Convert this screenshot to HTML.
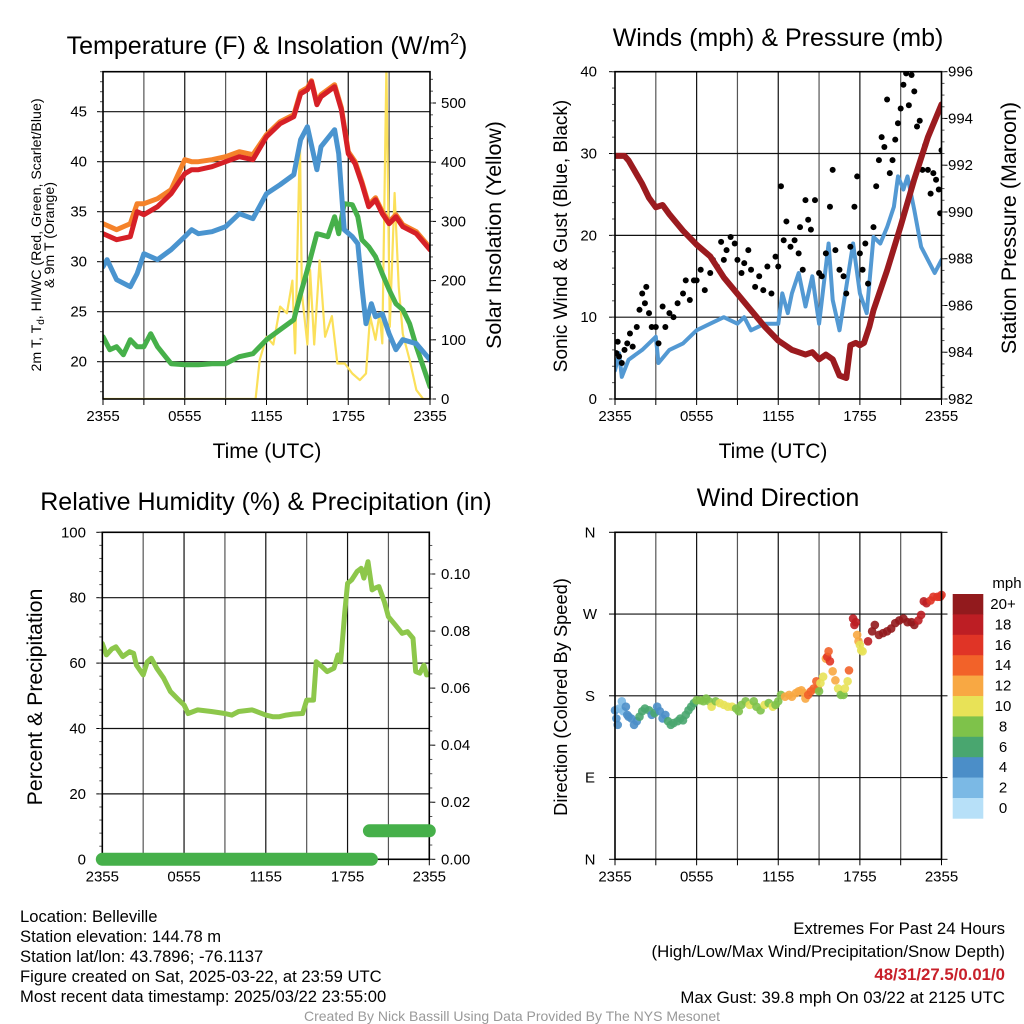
<!DOCTYPE html>
<html><head><meta charset="utf-8"><title>Mesonet Meteogram - Belleville</title>
<style>
html,body{margin:0;padding:0;background:#fff;}
svg{display:block;font-family:"Liberation Sans",Arial,sans-serif;}
</style></head>
<body>
<svg id="chart" width="1024" height="1024" viewBox="0 0 1024 1024" xmlns="http://www.w3.org/2000/svg">
<defs>
<clipPath id="c1"><rect x="103" y="71.7" width="327" height="327.3"/></clipPath>
<clipPath id="c2"><rect x="615" y="71.7" width="326.5" height="327.3"/></clipPath>
<clipPath id="c3"><rect x="102.3" y="532.3" width="327" height="327"/></clipPath>
</defs>
<rect width="1024" height="1024" fill="#fff"/>
<!-- titles -->
<text x="267" y="54" font-size="25" text-anchor="middle">Temperature (F) &amp; Insolation (W/m<tspan font-size="16" dy="-10">2</tspan><tspan dy="10">)</tspan></text>
<text x="778" y="46" font-size="25" text-anchor="middle">Winds (mph) &amp; Pressure (mb)</text>
<text x="266" y="510" font-size="25" text-anchor="middle">Relative Humidity (%) &amp; Precipitation (in)</text>
<text x="778" y="506" font-size="25" text-anchor="middle">Wind Direction</text>
<text x="267" y="458" font-size="21" text-anchor="middle">Time (UTC)</text>
<text x="773" y="458" font-size="21" text-anchor="middle">Time (UTC)</text>
<text transform="translate(41,235) rotate(-90)" font-size="14.2" text-anchor="middle">2m T, T<tspan font-size="10" dy="3">d</tspan><tspan dy="-3">, HI/WC (Red, Green, Scarlet/Blue)</tspan></text>
<text transform="translate(54,235) rotate(-90)" font-size="14.2" text-anchor="middle">&amp; 9m T (Orange)</text>
<text transform="translate(501,235) rotate(-90)" font-size="21.3" text-anchor="middle">Solar Insolation (Yellow)</text>
<text transform="translate(567,236) rotate(-90)" font-size="19" text-anchor="middle">Sonic Wind &amp; Gust (Blue, Black)</text>
<text transform="translate(1016,228) rotate(-90)" font-size="21.5" text-anchor="middle">Station Pressure (Maroon)</text>
<text transform="translate(42,697) rotate(-90)" font-size="21.3" text-anchor="middle">Percent &amp; Precipitation</text>
<text transform="translate(567,697) rotate(-90)" font-size="18.3" text-anchor="middle">Direction (Colored By Speed)</text>
<!-- footer -->
<g font-size="16.6">
<text x="20" y="922">Location: Belleville</text>
<text x="20" y="942">Station elevation: 144.78 m</text>
<text x="20" y="962">Station lat/lon: 43.7896; -76.1137</text>
<text x="20" y="982">Figure created on Sat, 2025-03-22, at 23:59 UTC</text>
<text x="20" y="1002">Most recent data timestamp: 2025/03/22 23:55:00</text>
</g>
<g font-size="16.8" text-anchor="end">
<text x="1005" y="934">Extremes For Past 24 Hours</text>
<text x="1005" y="957">(High/Low/Max Wind/Precipitation/Snow Depth)</text>
<text x="1005" y="980" fill="#c8202a" font-weight="bold">48/31/27.5/0.01/0</text>
<text x="1005" y="1003">Max Gust: 39.8 mph On 03/22 at 2125 UTC</text>
</g>
<text x="512" y="1021" font-size="14" fill="#999" text-anchor="middle">Created By Nick Bassill Using Data Provided By The NYS Mesonet</text>
</svg>
<script>
// ---------- DATA ----------
const xTickLabels = ["2355","0555","1155","1755","2355"];
const xTickHours = [0,6,12,18,24];
const tempTicks = [20,25,30,35,40,45];
const solarTicks = [0,100,200,300,400,500];
const windTicks = [0,10,20,30,40];
const presTicks = [982,984,986,988,990,992,994,996];
const rhTicks = [0,20,40,60,80,100];
const precipTicks = [0,0.02,0.04,0.06,0.08,0.10];
const precipTickLabels = ["0.00","0.02","0.04","0.06","0.08","0.10"];
const dirTicks = [0,90,180,270,360];
const dirTickLabels = ["N","E","S","W","N"];

const redH = [0,1,2,2.5,3,4,5,6,6.5,7,8,9,10,11,12,13,14,14.5,15,15.3,15.7,16,17,17.5,18,18.5,19,19.5,20,20.5,21,21.5,22,23,24];
const redV = [32.8,32.2,32.5,35,34.7,35.5,36.8,38.8,39.2,39.2,39.5,40,40.5,40.2,42.5,43.8,44.5,46.8,47.2,48,45.7,46.5,47.5,45.2,40.8,39.8,37.8,35.5,36.2,34.8,33.8,34.5,33.5,32.8,31.2];
const orangeV = [33.8,33.2,33.8,35.8,35.8,36.3,37.2,40.2,40,40,40.2,40.5,41,40.7,42.7,44,44.7,47,47.4,48.1,45.9,46.7,47.7,45.4,41,40,38,35.7,36.4,35,34,34.7,33.7,33,31.4];
const chillH = [0,0.3,1,2,2.5,3,4,5,6,6.5,7,8,9,10,11,12,13,14,14.5,15,15.7,16,17,17.3,17.7,18.3,18.7,19,19.3,19.7,20,20.5,21,21.5,22,23,24];
const chillV = [29.5,30.2,28.2,27.5,28.8,30.8,30.2,31.2,32.5,33.2,32.8,33,33.5,34.8,34.3,36.8,37.7,38.7,42.2,43.5,39.2,41.5,43.2,40.8,33.2,32.5,31.8,27.5,23.8,25.8,24.5,24.8,22.8,21.2,22.2,21.8,20.2];
const dewH = [0,0.5,1,1.5,2,2.5,3,3.5,4,5,6,7,8,9,10,11,12,13,14,14.5,15,15.7,16,16.5,17,17.3,17.7,18.3,18.7,19,19.5,20,20.5,21,21.5,22,22.5,23,23.5,24];
const dewV = [22.5,21.2,21.5,20.7,22.2,21.5,21.5,22.8,21.5,19.8,19.7,19.7,19.8,19.8,20.5,20.8,22.2,23.2,24.2,26.8,29.2,32.8,32.7,32.5,34.5,32.8,35.8,35.7,34.5,32.2,31.5,30.5,28.8,27.2,25.8,25.2,23.8,21.5,19.5,17.5];
const solarH = [0,11.2,11.5,12,12.5,13,13.5,13.9,14.1,14.45,14.6,15,15.2,15.5,15.9,16.3,16.8,17.2,17.75,18.3,18.85,19.3,19.6,20,20.3,20.5,20.8,21.05,21.4,21.7,22,22.5,23,23.5,24];
const solarV = [0,0,66,105,92,156,145,200,77,439,178,92,218,92,234,105,140,60,60,43,32,43,140,100,145,94,560,122,348,190,110,66,15,0,0];

const windH = [0,0.3,0.5,1,2,3,3.2,4,5,6,7,8,9,9.5,10,11,12,12.3,12.7,13,13.5,14,14.5,15,15.7,16,16.5,17,17.5,18,18.5,19,19.5,20,20.5,20.8,21.2,21.5,22,22.5,23,23.5,24];
const windV = [3.5,5.6,2.7,4.8,6,7.6,4.4,6,6.8,8.4,9.2,10,9.2,10,8.4,9.2,9.2,12.9,10.5,12.9,15.4,11.3,15,9.2,19,12.1,8.4,13.7,19,12.9,10.5,19.8,19,21,23.5,27.2,25.6,27.2,23.1,18.6,17,15.4,17];
const gustH = [0.1,0.2,0.3,0.5,0.7,0.9,1.1,1.3,1.6,1.8,2.0,2.2,2.3,2.5,2.7,3.0,3.2,3.5,3.7,4.0,4.3,4.6,5.0,5.2,5.5,5.8,6.0,6.3,6.6,7.0,7.2,7.5,7.8,8.0,8.2,8.5,8.8,9.0,9.3,9.5,9.8,10.0,10.3,10.6,10.9,11.2,11.5,11.8,12.0,12.2,12.4,12.6,12.9,13.2,13.5,13.6,13.8,14.0,14.2,14.4,14.7,15.0,15.2,15.5,15.8,16.0,16.2,16.5,16.8,17.0,17.3,17.6,17.8,18.0,18.2,18.4,18.6,19.0,19.2,19.4,19.6,19.8,20.0,20.2,20.4,20.6,20.8,21.0,21.2,21.4,21.6,21.8,22.0,22.2,22.4,22.6,22.8,23.0,23.2,23.4,23.6,23.8,23.9,24.0];
const gustV = [5.6,7,5.2,4.4,6,6.8,8,6.4,8.8,10.9,12.9,11.7,13.7,10.5,8.8,8.8,6.8,11.3,8.8,10.5,10,11.7,12.9,14.5,12.1,14.5,14.5,15.8,13.3,15.4,17,16.2,19.2,17,18.2,19.8,19,17,15.4,16.6,18.2,15.8,13.7,15,13.3,16.2,12.9,17.4,16.2,26,19.4,21.7,18.6,19.4,17.8,21,15.8,24.3,21.9,20.7,24.3,15.4,15,17.8,23.5,28,18.2,15.8,15,12.9,18.6,23.5,27.2,17.8,15.8,19,14.1,21,26,29.2,32,30.8,36.6,27.6,29.2,31.7,33.7,35.5,38.4,39.8,35.9,39.6,37.6,33.3,34,28,31,28,25.1,27.6,26.8,25.6,22.7,30.4];
const presH = [0,0.7,1,2,2.5,3,3.5,4,5,6,7,8,9,10,11,12,12.5,13,13.5,14,14.5,15,15.5,16,16.5,17,17.3,17.7,18,18.3,18.7,19,20,21,22,23,24];
const presV = [992.4,992.4,992.2,991.2,990.6,990.2,990.3,989.9,989.2,988.6,988.1,987.2,986.5,985.8,985.1,984.5,984.3,984.1,984,983.9,984,983.7,983.9,983.7,983,982.9,984.3,984.4,984.3,984.4,985.1,985.8,987.5,989.4,991.4,993.2,994.6];

const rhH = [0,0.3,0.7,1,1.5,2,2.3,2.5,3,3.3,3.6,4,4.5,5,5.5,6,6.3,7,8,9,9.5,10,11,12,12.5,13,13.5,14,14.7,15,15.5,15.7,16,16.5,17,17.3,17.5,17.8,18,18.3,18.7,19,19.2,19.5,19.8,20,20.3,20.7,21,21.5,22,22.4,22.8,23,23.3,23.6,23.8,24];
const rhV = [66,62.5,64.3,65,62,63.5,63,59.4,56.4,60.4,61.5,58.4,55.4,51.3,49.2,47.2,44.6,45.7,45.2,44.6,44.1,45.2,45.7,44.1,43.6,43.6,44.1,44.4,44.6,48.7,48.7,60.4,59.4,57.4,58.4,62.5,60.4,75.7,84.4,85.4,88,89,86,91,82.4,82.9,83.4,78.8,74.2,71.7,69.1,69.6,67.6,57.4,56.9,59.4,56.4,56.6];
const precipH = [0,6,12,18,19.75,19.6,22,24];
const precipV = [0,0,0,0,0,0.01,0.01,0.01];

const dirH = [0,0.1,0.2,0.3,0.5,0.6,0.8,0.9,1.0,1.2,1.4,1.6,1.8,2.0,2.2,2.5,2.7,2.9,3.1,3.3,3.5,3.7,3.9,4.1,4.3,4.6,4.8,5.0,5.2,5.4,5.6,5.8,6.0,6.3,6.5,6.7,6.9,7.1,7.4,7.7,8.0,8.3,8.6,8.9,9.1,9.3,9.6,9.9,10.2,10.4,10.7,11,11.3,11.6,11.8,12.0,12.2,12.5,12.8,13.0,13.3,13.5,13.7,13.9,14.0,14.2,14.4,14.6,14.8,14.9,15.0,15.1,15.3,15.5,15.6,15.7,15.8,16,16.2,16.4,16.6,16.8,16.9,17.1,17.2,17.5,17.6,17.7,17.8,17.9,18,18.1,18.2,18.6,18.9,19.1,19.4,19.7,20,20.3,20.6,20.9,21.2,21.5,21.8,22.0,22.3,22.5,22.7,22.9,23.2,23.4,23.7,23.9,24];
const dirD = [164,155,148,166,174,163,168,159,157,155,148,152,157,163,166,164,159,161,168,163,155,159,152,148,150,152,155,153,159,164,168,172,175,175,174,177,174,168,174,172,170,168,168,166,163,170,174,170,174,168,164,170,172,168,170,174,181,179,181,179,183,185,186,183,177,181,185,188,196,188,185,194,201,221,223,229,218,207,197,188,181,181,188,196,208,265,258,261,247,240,236,230,229,240,251,258,247,249,251,254,260,263,265,261,261,258,263,269,284,282,285,289,289,289,291];
const dirS = [4,4,4,2,2,3,4,4,4,4,4,5,6,6,6,6,5,6,4,4,4,4,6,6,6,6,6,6,7,7,7,7,8,9,9,8,9,10,8,10,10,10,10,9,8,9,8,10,9,8,8,10,8,10,9,8,9,12,12,13,12,12,13,12,12,14,14,14,15,14,9,10,10,12,16,14,16,12,12,10,9,8,10,10,14,18,18,18,12,12,11,10,10,18,20,20,20,20,20,20,20,20,20,20,20,20,18,18,18,18,17,16,17,16,17];
const speedBins = ["0","2","4","6","8","10","12","14","16","18","20+"];
const speedColors = ["#b7e0f8","#7bb9e5","#4b8ec8","#49a66f","#7ec24a","#e8e257","#f8a843","#f26229","#e03426","#bd1e24","#921a1d"];

// ---------- HELPERS ----------
const NS = "http://www.w3.org/2000/svg";
const svg = document.getElementById("chart");
function mk(tag, attrs, parent) {
  const e = document.createElementNS(NS, tag);
  for (const k in attrs) e.setAttribute(k, attrs[k]);
  (parent || svg).appendChild(e);
  return e;
}
function lin(d0, d1, r0, r1) { return v => r0 + (v - d0) * (r1 - r0) / (d1 - d0); }
function pathFrom(hs, vs, xs, ys) {
  let d = "";
  const n = Math.min(hs.length, vs.length);
  for (let i = 0; i < n; i++) d += (i ? "L" : "M") + xs(hs[i]).toFixed(1) + "," + ys(vs[i]).toFixed(1);
  return d;
}

function frame(p, name) {
  const g = mk("g", {});
  
  
  for (let h = 3; h < 24; h += 3) {
    const x = p.xs(h);
    const ln = mk("line", {x1: x, x2: x, y1: p.y0, y2: p.y1, stroke: (h % 6 === 0 ? "#111" : "#555"), "stroke-width": 1.2}, g);
    
    
  }
  for (let h = 0; h <= 24; h += 3) {
    const x = p.xs(h);
    mk("line", {x1: x, x2: x, y1: p.y1, y2: p.y1 + 6, stroke: "#000", "stroke-width": 1}, g);
  }
  for (let i = 0; i < xTickHours.length; i++) {
    const t = mk("text", {x: p.xs(xTickHours[i]), y: p.y1 + 22, "font-size": 15, "text-anchor": "middle"}, g);
    t.textContent = xTickLabels[i];
    
    
  }
  return g;
}
function border(p, name) {
  const r = mk("rect", {x: p.x0, y: p.y0, width: p.x1 - p.x0, height: p.y1 - p.y0, fill: "none", stroke: "#000", "stroke-width": 1.6});
  
  
}
function hgrid(p, ticks, ys, labels, name, side, lx) {
  for (let i = 0; i < ticks.length; i++) {
    const y = ys(ticks[i]);
    if (side === "left") {
      const ln = mk("line", {x1: p.x0, x2: p.x1, y1: y, y2: y, stroke: "#111", "stroke-width": 1.2});
      
      
      mk("line", {x1: p.x0 - 6, x2: p.x0, y1: y, y2: y, stroke: "#000"});
    } else {
      mk("line", {x1: p.x1, x2: p.x1 + 6, y1: y, y2: y, stroke: "#000"});
    }
    const t = mk("text", {x: lx, y: y + 5, "font-size": 15, "text-anchor": side === "left" ? "end" : "start"});
    t.textContent = labels ? labels[i] : String(ticks[i]);
    
    
  }
}
function minor(p, lo, hi, step, ys, side) {
  for (let v = lo; v <= hi + 1e-9; v += step) {
    const y = ys(v);
    if (y < p.y0 - 0.5 || y > p.y1 + 0.5) continue;
    if (side === "left") mk("line", {x1: p.x0 - 3, x2: p.x0, y1: y, y2: y, stroke: "#555"});
    else mk("line", {x1: p.x1, x2: p.x1 + 3, y1: y, y2: y, stroke: "#555"});
  }
}

// ---------- PANEL 1: TEMPERATURE ----------
const p1 = {x0: 103, x1: 430, y0: 71.7, y1: 399};
p1.xs = lin(0, 24, p1.x0, p1.x1);
const t1 = lin(45, 20, 111.7, 361.7);
const s1 = lin(0, 500, 399, 103);
frame(p1, "temp");
hgrid(p1, tempTicks, t1, null, "temp-left", "left", 87);
hgrid(p1, solarTicks, s1, null, "solar-right", "right", 441);
minor(p1, 17, 49, 1, t1, "left");
minor(p1, 0, 550, 20, s1, "right");
const g1 = mk("g", {"clip-path": "url(#c1)"});
const ls = {fill: "none", "stroke-linejoin": "round", "stroke-linecap": "round"};
let e;
e = mk("path", Object.assign({d: pathFrom(solarH, solarV, p1.xs, s1), stroke: "#fbe05a", "stroke-width": 2.2}, ls), g1);


e = mk("path", Object.assign({d: pathFrom(dewH, dewV, p1.xs, t1), stroke: "#46b04a", "stroke-width": 5}, ls), g1);


e = mk("path", Object.assign({d: pathFrom(chillH, chillV, p1.xs, t1), stroke: "#4a94cf", "stroke-width": 5}, ls), g1);


e = mk("path", Object.assign({d: pathFrom(redH, orangeV, p1.xs, t1), stroke: "#f5822a", "stroke-width": 5}, ls), g1);


e = mk("path", Object.assign({d: pathFrom(redH, redV, p1.xs, t1), stroke: "#d62027", "stroke-width": 5}, ls), g1);


border(p1, "temp");

// ---------- PANEL 2: WINDS ----------
const p2 = {x0: 615, x1: 941.5, y0: 71.7, y1: 399};
p2.xs = lin(0, 24, p2.x0, p2.x1);
const w2 = lin(0, 40, 399, 71.7);
const pr2 = lin(982, 996, 399, 71.7);
frame(p2, "wind");
hgrid(p2, windTicks, w2, null, "wind-left", "left", 597);
hgrid(p2, presTicks, pr2, null, "pressure-right", "right", 948);
minor(p2, 0, 40, 2, w2, "left");
minor(p2, 982, 996, 0.5, pr2, "right");
const g2 = mk("g", {"clip-path": "url(#c2)"});
e = mk("path", Object.assign({d: pathFrom(windH, windV, p2.xs, w2), stroke: "#5399d3", "stroke-width": 4}, ls), g2);


for (let i = 0; i < Math.min(gustH.length, gustV.length); i++) {
  const c = mk("circle", {cx: p2.xs(gustH[i]), cy: w2(gustV[i]), r: 3, fill: "#000"}, g2);
  
  
}
e = mk("path", Object.assign({d: pathFrom(presH, presV, p2.xs, pr2), stroke: "#9b1b1f", "stroke-width": 6}, ls), g2);


border(p2, "wind");

// ---------- PANEL 3: RH & PRECIP ----------
const p3 = {x0: 102.3, x1: 429.3, y0: 532.3, y1: 859.3};
p3.xs = lin(0, 24, p3.x0, p3.x1);
const r3 = lin(0, 100, 859.3, 532.3);
const pc3 = lin(0, 0.1, 859.3, 574);
frame(p3, "rh");
hgrid(p3, rhTicks, r3, null, "rh-left", "left", 86);
hgrid(p3, precipTicks, pc3, precipTickLabels, "precip-right", "right", 441);
minor(p3, 0, 100, 4, r3, "left");
minor(p3, 0, 0.114, 0.005, pc3, "right");
const g3 = mk("g", {"clip-path": "url(#c3)"});
e = mk("path", Object.assign({d: pathFrom(rhH, rhV, p3.xs, r3), stroke: "#8dc74b", "stroke-width": 5}, ls), g3);


border(p3, "rh");
{
  let start = 0;
  for (let i = 1; i <= precipV.length; i++) {
    if (i === precipV.length || precipV[i] !== precipV[start]) {
      const d = pathFrom(precipH.slice(start, i), precipV.slice(start, i), p3.xs, pc3);
      const pl = mk("path", {d: d, fill: "none", stroke: "#46b04a", "stroke-width": 13, "stroke-linecap": "round"});
      
      
      start = i;
    }
  }
}

// ---------- PANEL 4: WIND DIRECTION ----------
const p4 = {x0: 615, x1: 941.5, y0: 532.3, y1: 859.3};
p4.xs = lin(0, 24, p4.x0, p4.x1);
const d4 = lin(0, 360, 859.3, 532.3);
frame(p4, "dir");
for (let i = 0; i < dirTicks.length; i++) {
  const y = d4(dirTicks[i]);
  const ln = mk("line", {x1: p4.x0, x2: p4.x1, y1: y, y2: y, stroke: "#111", "stroke-width": 1.2});
  
  
  mk("line", {x1: p4.x0 - 6, x2: p4.x0, y1: y, y2: y, stroke: "#000"});
  mk("line", {x1: p4.x1, x2: p4.x1 + 6, y1: y, y2: y, stroke: "#000"});
  const t = mk("text", {x: 590, y: y + 5, "font-size": 15, "text-anchor": "middle"});
  t.textContent = dirTickLabels[i];
  
  
}
function speedColor(s) { return speedColors[Math.min(10, Math.max(0, Math.floor(s / 2)))]; }
for (let i = 0; i < Math.min(dirH.length, dirD.length, dirS.length); i++) {
  const c = mk("circle", {cx: p4.xs(dirH[i]), cy: d4(dirD[i]), r: 4.3, fill: speedColor(dirS[i]), "fill-opacity": 0.9});
  
  
}
border(p4, "dir");

// colorbar
const cb = mk("g", {});


const cbTop = 594, cbH = 20.4;
for (let i = 0; i < speedColors.length; i++) {
  const k = speedColors.length - 1 - i;
  const r = mk("rect", {x: 952.7, y: cbTop + i * cbH, width: 30.6, height: cbH + 0.3, fill: speedColors[k]}, cb);
  
  
  const t = mk("text", {x: 1003, y: cbTop + i * cbH + 15, "font-size": 15, "text-anchor": "middle"}, cb);
  t.textContent = speedBins[k];
  
  
}
const mph = mk("text", {x: 1007, y: 588, "font-size": 15, "text-anchor": "middle"}, cb);
mph.textContent = "mph";


</script>
</body></html>
